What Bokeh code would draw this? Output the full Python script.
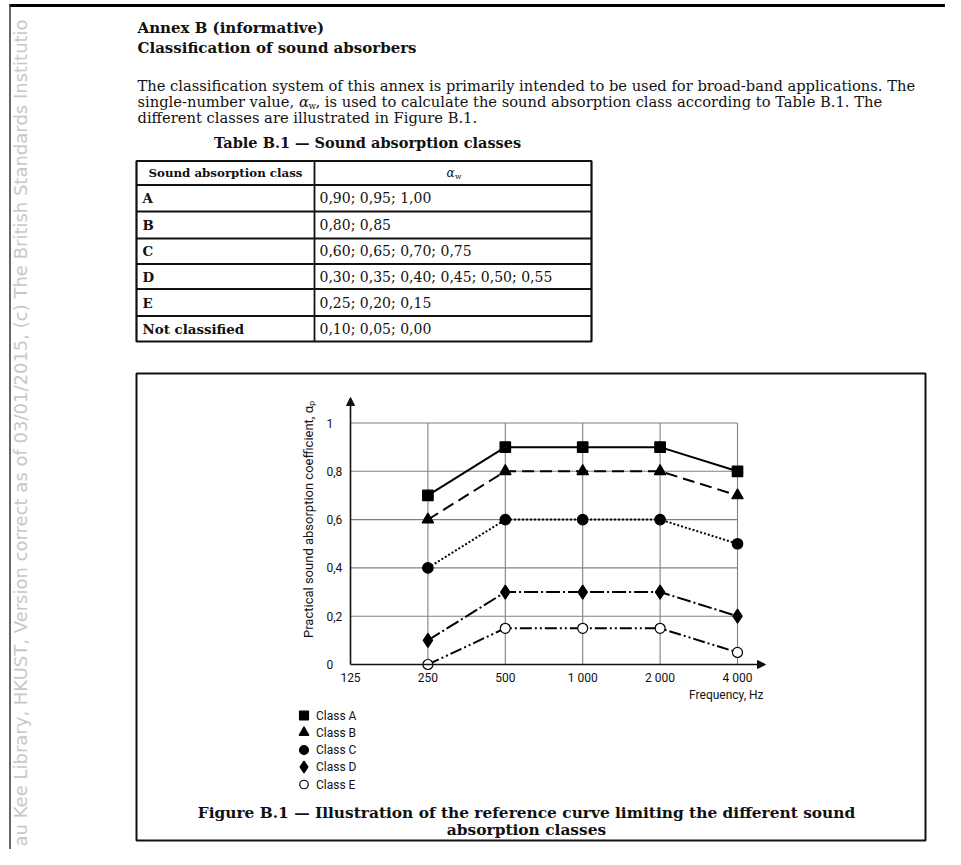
import math
from bokeh.plotting import figure
from bokeh.models import Range1d, LogScale, Arrow, NormalHead
from bokeh.core.properties import value
from bokeh.embed import file_html
from bokeh.resources import INLINE

# ---------------- data ----------------
freqs = [125, 250, 500, 1000, 2000, 4000]
freq_tick_labels = ["125", "250", "500", "1 000", "2 000", "4 000"]
band_freqs = [250, 500, 1000, 2000, 4000]
class_a = [0.70, 0.90, 0.90, 0.90, 0.80]
class_b = [0.60, 0.80, 0.80, 0.80, 0.70]
class_c = [0.40, 0.60, 0.60, 0.60, 0.50]
class_d = [0.10, 0.30, 0.30, 0.30, 0.20]
class_e = [0.00, 0.15, 0.15, 0.15, 0.05]
y_ticks = [0, 0.2, 0.4, 0.6, 0.8, 1.0]
y_tick_labels = ["0", "0,2", "0,4", "0,6", "0,8", "1"]
legend_labels = ["Class A", "Class B", "Class C", "Class D", "Class E"]
table_classes = ["A", "B", "C", "D", "E", "Not classified"]
table_values = ["0,90; 0,95; 1,00", "0,80; 0,85", "0,60; 0,65; 0,70; 0,75",
                "0,30; 0,35; 0,40; 0,45; 0,50; 0,55", "0,25; 0,20; 0,15", "0,10; 0,05; 0,00"]

# ---------------- page canvas (y grows downward) ----------------
W, H = 945, 849
p = figure(width=W, height=H, x_range=Range1d(0, W), y_range=Range1d(H, 0),
           output_backend="svg", toolbar_location=None, min_border=0,
           x_axis_location=None, y_axis_location=None)
p.grid.visible = False
p.outline_line_color = None
p.background_fill_color = "white"
p.border_fill_color = "white"

SERIF = value("DejaVu Serif")
SANS = value("Roboto")
INK = "#111111"

# page frame + watermark
p.quad(left=[9], right=[W], top=[3.5], bottom=[6.5], fill_color="black", line_color=None)
p.segment(x0=[9.5], y0=[3.5], x1=[9.5], y1=[H], line_color="#333", line_width=1.5)
p.text(x=[20], y=[846], text=["au Kee Library, HKUST, Version correct as of 03/01/2015, (c) The British Standards Institutio"],
       angle=math.pi / 2, text_font=value("DejaVu Sans"), text_font_size="18px",
       text_color="#c8c8c8", text_align="left", text_baseline="middle")

# headings and paragraph
p.text(x=[137, 137], y=[27, 47],
       text=["Annex B (informative)", "Classification of sound absorbers"],
       text_font=SERIF, text_font_size="15px", text_font_style="bold",
       text_color=INK, text_align="left", text_baseline="middle")
FS = 14.7
p.text(x=[137], y=[85],
       text=["The classification system of this annex is primarily intended to be used for broad-band applications. The"],
       text_font=SERIF, text_font_size=f"{FS}px", text_color=INK, text_align="left", text_baseline="middle")
x_alpha = 137 + 10.99 * FS          # advance of "single-number value, " in DejaVu Serif (em units)
p.text(x=[137], y=[101], text=["single-number value,"],
       text_font=SERIF, text_font_size=f"{FS}px", text_color=INK, text_align="left", text_baseline="middle")
p.text(x=[x_alpha], y=[101], text=["α"], text_font=SERIF, text_font_size=f"{FS}px",
       text_font_style="italic", text_color=INK, text_align="left", text_baseline="middle")
p.text(x=[x_alpha + 0.64 * FS], y=[105], text=["w"], text_font=SERIF, text_font_size=f"{FS * 0.6}px",
       text_color=INK, text_align="left", text_baseline="middle")
p.text(x=[x_alpha + 1.12 * FS], y=[101],
       text=[", is used to calculate the sound absorption class according to Table B.1. The"],
       text_font=SERIF, text_font_size=f"{FS}px", text_color=INK, text_align="left", text_baseline="middle")
p.text(x=[137], y=[117], text=["different classes are illustrated in Figure B.1."],
       text_font=SERIF, text_font_size=f"{FS}px", text_color=INK, text_align="left", text_baseline="middle")
p.text(x=[367], y=[142], text=["Table B.1 — Sound absorption classes"],
       text_font=SERIF, text_font_size="14.5px", text_font_style="bold", text_color=INK,
       text_align="center", text_baseline="middle")

# ---------------- table ----------------
T_L, T_M, T_R = 136, 314, 591
row_edges = [160.5, 184.5, 211, 238, 263.5, 288.5, 315.5, 341]
p.quad(left=[T_L], right=[T_R], top=[row_edges[0]], bottom=[row_edges[-1]],
       fill_color=None, line_color=INK, line_width=2.2)
p.segment(x0=[T_L] * 6, x1=[T_R] * 6, y0=row_edges[1:-1], y1=row_edges[1:-1], line_color=INK, line_width=1.8)
p.segment(x0=[T_M], x1=[T_M], y0=[row_edges[0]], y1=[row_edges[-1]], line_color=INK, line_width=1.8)
p.text(x=[(T_L + T_M) / 2], y=[(row_edges[0] + row_edges[1]) / 2], text=["Sound absorption class"],
       text_font=SERIF, text_font_size="11.8px", text_font_style="bold", text_color=INK,
       text_align="center", text_baseline="middle")
p.text(x=[450], y=[172], text=["α"], text_font=SERIF, text_font_size="12px",
       text_font_style="italic", text_color=INK, text_align="center", text_baseline="middle")
p.text(x=[454.5], y=[175.5], text=["w"], text_font=SERIF, text_font_size="7.5px",
       text_color=INK, text_align="left", text_baseline="middle")
row_mid = [(row_edges[i + 1] + row_edges[i + 2]) / 2 for i in range(6)]
p.text(x=[142] * 6, y=row_mid, text=table_classes, text_font=SERIF, text_font_size="13.4px",
       text_font_style="bold", text_color=INK, text_align="left", text_baseline="middle")
p.text(x=[319] * 6, y=row_mid, text=table_values, text_font=SERIF, text_font_size="14px",
       text_color=INK, text_align="left", text_baseline="middle")

# ---------------- figure box ----------------
p.quad(left=[136], right=[925], top=[373], bottom=[840],
       fill_color=None, line_color=INK, line_width=2)

# chart scales: 125 Hz at x=350, 77.4 px per octave; 0 at y=664, 241.5 px per unit
X125, PPO = 350, 77.4
Y0, PPU = 664, 241.5
p.extra_x_ranges = {"freq": Range1d(125 * 2 ** ((0 - X125) / PPO), 125 * 2 ** ((W - X125) / PPO))}
p.extra_x_scales = {"freq": LogScale()}
p.extra_y_ranges = {"coef": Range1d((Y0 - H) / PPU, Y0 / PPU)}
ch = dict(x_range_name="freq", y_range_name="coef")

# grid
p.segment(x0=band_freqs, y0=[0] * 5, x1=band_freqs, y1=[1] * 5, line_color="#808080", line_width=1.1, **ch)
p.segment(x0=[freqs[0]] * 5, y0=y_ticks[1:], x1=[freqs[-1]] * 5, y1=y_ticks[1:],
          line_color="#808080", line_width=1.1, **ch)

# axes with arrows
p.add_layout(Arrow(x_start=X125, y_start=Y0, x_end=X125, y_end=397, line_color="#111", line_width=1.6,
                   end=NormalHead(size=8, fill_color="#111", line_color="#111")))
p.add_layout(Arrow(x_start=X125, y_start=Y0, x_end=765, y_end=Y0, line_color="#111", line_width=1.6,
                   end=NormalHead(size=8, fill_color="#111", line_color="#111")))

# series
series = [
    (class_a, "solid", "square", "black", 10.5),
    (class_b, "12 6", "triangle", "black", 11.5),
    (class_c, "2 2", "circle", "black", 10.5),
    (class_d, "14 3 2 3", "diamond", "black", 14),
    (class_e, "12 3 2 3 2 3", "circle", "white", 10),
]
for vals, dash, marker, fill, size in series:
    p.line(x=band_freqs, y=vals, line_color="black", line_width=2, line_dash=dash, **ch)
for vals, dash, marker, fill, size in series:
    p.scatter(x=band_freqs, y=vals, marker=marker, size=size, fill_color=fill,
              line_color="black", line_width=1.2, **ch)

# tick labels
CH_FS = "12px"
p.text(x=freqs, y=[677] * 6, text=freq_tick_labels, x_range_name="freq", text_font=SANS,
       text_font_size=CH_FS, text_color=INK, text_align="center", text_baseline="middle")
p.text(x=[326] * 6, y=y_ticks, text=y_tick_labels, y_range_name="coef", text_font=SANS,
       text_font_size=CH_FS, text_color=INK, text_align="left", text_baseline="middle")
p.text(x=[763], y=[694], text=["Frequency, Hz"], text_font=SANS, text_font_size=CH_FS,
       text_color=INK, text_align="right", text_baseline="middle")
p.text(x=[308], y=[519], text=["Practical sound absorption coefficient, αₚ"], angle=math.pi / 2,
       text_font=SANS, text_font_size="13px", text_color=INK, text_align="center", text_baseline="middle")

# legend
leg_y = [715, 732, 749.5, 766.5, 784]
for (vals, dash, marker, fill, size), ly in zip(series, leg_y):
    p.scatter(x=[303.5], y=[ly], marker=marker, size=size * 0.85, fill_color=fill,
              line_color="black", line_width=1.2)
p.text(x=[315.5] * 5, y=leg_y, text=legend_labels, text_font=SANS, text_font_size=CH_FS,
       text_color=INK, text_align="left", text_baseline="middle")

# caption
p.text(x=[526, 526], y=[812, 829],
       text=["Figure B.1 — Illustration of the reference curve limiting the different sound",
             "absorption classes"],
       text_font=SERIF, text_font_size="15.4px", text_font_style="bold", text_color=INK,
       text_align="center", text_baseline="middle")

open("out.html", "w").write(file_html(p, INLINE))
